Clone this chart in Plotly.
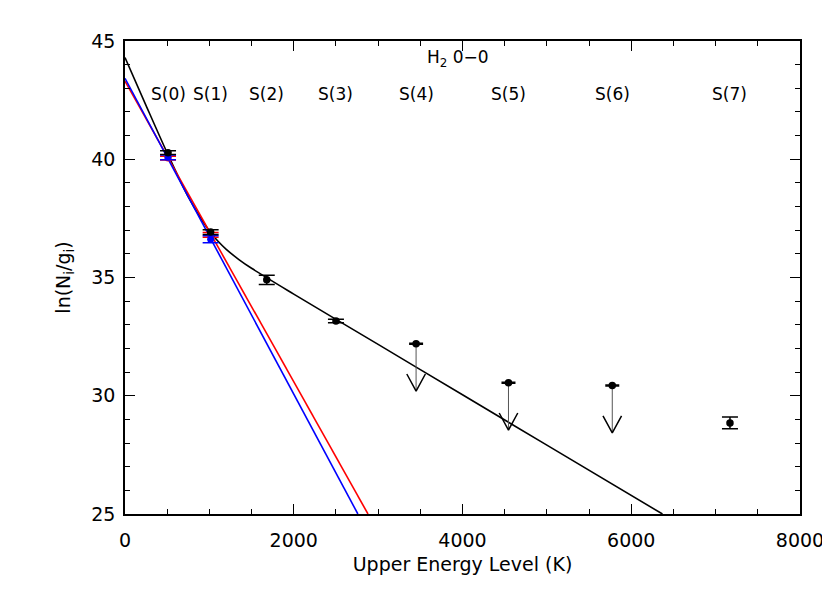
import plotly.graph_objects as go

# Observed H2 0-0 S(J) lines
labels = ["S(0)", "S(1)", "S(2)", "S(3)", "S(4)", "S(5)", "S(6)", "S(7)"]
energy = [510, 1015, 1680, 2500, 3450, 4545, 5775, 7170]

# Detections (black)
det_x = [510, 1015, 1680, 2500, 7170]
det_y = [40.28, 36.92, 34.90, 33.16, 28.85]
det_err = [0.08, 0.1, 0.2, 0.07, 0.25]

# Upper limits (black, with downward arrows)
lim_x = [3450, 4545, 5775]
lim_y = [32.2, 30.55, 30.43]
lim_err = [0.02, 0.02, 0.02]
arrow_len = 2.0

# Blue and red points (S(0), S(1))
blue_x = [510, 1015]
blue_y = [40.08, 36.62]
blue_err = [0.1, 0.15]
red_x = [510, 1015]
red_y = [40.05, 36.8]
red_err = [0.08, 0.1]

# Fit lines
blue_line_x = [0, 2760]
blue_line_y = [43.42, 25.0]
red_line_x = [0, 2880]
red_line_y = [43.3, 25.0]
black_curve_x = [0, 250, 500, 750, 1000, 1100, 1200, 1350, 1500, 2000, 3000, 4000, 5000, 6370]
black_curve_y = [44.30, 42.27, 40.27, 38.41, 36.97, 36.54, 36.19, 35.76, 35.39, 34.30, 32.17, 30.04, 27.91, 25.0]

FONT = "DejaVu Sans"

fig = go.Figure()

fig.add_trace(go.Scatter(x=black_curve_x, y=black_curve_y, mode="lines",
                         line=dict(color="black", width=1.6, shape="spline", smoothing=0.8),
                         hoverinfo="skip"))
fig.add_trace(go.Scatter(x=red_line_x, y=red_line_y, mode="lines",
                         line=dict(color="red", width=1.6), hoverinfo="skip"))
fig.add_trace(go.Scatter(x=blue_line_x, y=blue_line_y, mode="lines",
                         line=dict(color="blue", width=1.6), hoverinfo="skip"))

# Arrows for upper limits: thin grey stems and V heads
stem_x, stem_y, head_x, head_y = [], [], [], []
hw = 110  # half width of head in K
hh = 0.72  # head height in ln units
for x, y in zip(lim_x, lim_y):
    tip = y - arrow_len
    stem_x += [x, x, None]
    stem_y += [y, tip, None]
    head_x += [x - hw, x, x + hw, None]
    head_y += [tip + hh, tip, tip + hh, None]
fig.add_trace(go.Scatter(x=stem_x, y=stem_y, mode="lines",
                         line=dict(color="#555555", width=1), hoverinfo="skip"))
fig.add_trace(go.Scatter(x=head_x, y=head_y, mode="lines",
                         line=dict(color="black", width=1.5), hoverinfo="skip"))

fig.add_trace(go.Scatter(x=lim_x, y=lim_y, mode="markers",
                         marker=dict(color="black", size=7.5),
                         error_y=dict(type="data", array=lim_err, color="black", thickness=1.5, width=7)))
fig.add_trace(go.Scatter(x=red_x, y=red_y, mode="markers",
                         marker=dict(color="red", size=7),
                         error_y=dict(type="data", array=red_err, color="red", thickness=1.5, width=8)))
fig.add_trace(go.Scatter(x=blue_x, y=blue_y, mode="markers",
                         marker=dict(color="blue", size=7),
                         error_y=dict(type="data", array=blue_err, color="blue", thickness=1.5, width=8)))
fig.add_trace(go.Scatter(x=det_x, y=det_y, mode="markers",
                         marker=dict(color="black", size=7.5),
                         error_y=dict(type="data", array=det_err, color="black", thickness=1.5, width=8)))

annotations = []
for lab, x in zip(labels, energy):
    annotations.append(dict(x=x, y=42.76, xref="x", yref="y", text=lab, showarrow=False,
                            font=dict(family=FONT, size=17, color="black")))
annotations.append(dict(x=3950, y=44.24, xref="x", yref="y", text="H<sub>2</sub> 0−0",
                        showarrow=False, font=dict(family=FONT, size=17, color="black")))

axis_common = dict(showgrid=False, zeroline=False, showline=True, linecolor="black", linewidth=1.5,
                   mirror="ticks", ticks="inside", ticklen=10, tickwidth=1.3, tickcolor="black",
                   tickfont=dict(family=FONT, size=19, color="black"))

fig.update_layout(
    width=830, height=593,
    margin=dict(l=117, r=38, t=33, b=87),
    paper_bgcolor="white", plot_bgcolor="white",
    showlegend=False,
    annotations=annotations,
    xaxis=dict(range=[0, 8000], dtick=2000, tick0=0, ticklabelstandoff=8,
               minor=dict(ticks="inside", dtick=500, ticklen=5, tickwidth=1.3, tickcolor="black"),
               title=dict(text="Upper Energy Level (K)", font=dict(family=FONT, size=19, color="black"), standoff=8),
               **axis_common),
    yaxis=dict(range=[25, 45], dtick=5, tick0=25, ticklabelstandoff=4,
               minor=dict(ticks="inside", dtick=1, ticklen=5, tickwidth=1.3, tickcolor="black"),
               title=dict(text="ln(N<sub>i</sub>/g<sub>i</sub>)", font=dict(family=FONT, size=19, color="black"), standoff=16),
               **axis_common),
)

fig.write_html("out.html")
